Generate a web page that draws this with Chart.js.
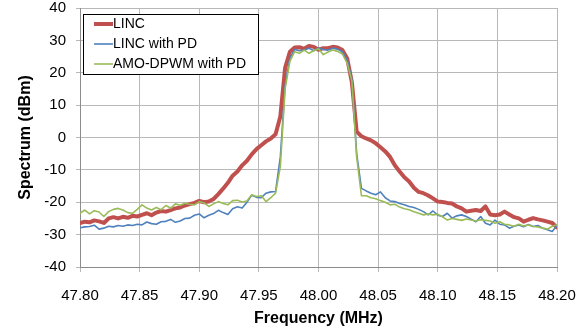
<!DOCTYPE html>
<html>
<head>
<meta charset="utf-8">
<script src="https://cdn.jsdelivr.net/npm/chart.js@4.4.1/dist/chart.umd.min.js"></script>
<style>
    html, body { margin: 0; padding: 0; background: #fff; }
    #wrap { width: 582px; height: 331px; position: relative; }
</style>
</head>
<body>
<div id="wrap"><canvas id="spectrumChart" width="582" height="331"></canvas></div>
<script>
// Frequency samples (MHz)
const freqs = [
    47.800, 47.804, 47.808, 47.812, 47.816, 47.820, 47.824, 47.828, 47.832, 47.836,
    47.840, 47.844, 47.848, 47.852, 47.856, 47.860, 47.864, 47.868, 47.872, 47.876,
    47.880, 47.884, 47.888, 47.892, 47.896, 47.900, 47.904, 47.908, 47.912, 47.916,
    47.920, 47.924, 47.928, 47.932, 47.936, 47.940, 47.944, 47.948, 47.952, 47.956,
    47.960, 47.964, 47.968, 47.972, 47.976, 47.980, 47.984, 47.988, 47.992, 47.996,
    48.000, 48.004, 48.008, 48.012, 48.016, 48.020, 48.024, 48.028, 48.032, 48.036,
    48.040, 48.044, 48.048, 48.052, 48.056, 48.060, 48.064, 48.068, 48.072, 48.076,
    48.080, 48.084, 48.088, 48.092, 48.096, 48.100, 48.104, 48.108, 48.112, 48.116,
    48.120, 48.124, 48.128, 48.132, 48.136, 48.140, 48.144, 48.148, 48.152, 48.156,
    48.160, 48.164, 48.168, 48.172, 48.176, 48.180, 48.184, 48.188, 48.192, 48.196,
    48.200
];

// LINC (dBm)
const lincValues = [
    -26.4, -26.0, -26.2, -25.6, -25.9, -26.4, -25.0, -24.6, -25.0, -24.5,
    -24.8, -24.2, -24.4, -23.9, -23.4, -24.0, -23.2, -22.7, -22.9, -22.4,
    -21.9, -21.6, -21.0, -20.6, -20.2, -19.6, -20.0, -19.8, -19.0, -17.5,
    -15.8, -14.0, -11.8, -10.5, -8.6, -7.2, -5.2, -3.6, -2.4, -1.2,
    -0.3, 1.0, 6.5, 21.5, 26.5, 27.8, 27.9, 27.4, 28.3, 28.0,
    27.1, 27.6, 27.6, 28.0, 27.8, 27.0, 24.5, 17.0, 1.8, 0.4,
    -0.3, -0.9, -1.8, -3.0, -4.3, -6.0, -8.6, -10.5, -12.3, -13.6,
    -15.5, -16.8, -17.2, -17.9, -18.8, -19.8, -19.9, -20.2, -20.4, -21.3,
    -21.9, -22.9, -22.6, -22.4, -22.7, -21.3, -23.8, -24.0, -23.8, -22.9,
    -23.8, -24.6, -25.0, -26.0, -25.4, -24.9, -25.3, -25.6, -26.0, -26.4,
    -27.8
];

// LINC with PD (dBm)
const lincPdValues = [
    -27.9, -27.6, -27.5, -27.1, -28.3, -28.0, -27.4, -27.6, -27.2, -27.4,
    -27.0, -27.2, -26.8, -27.0, -26.1, -26.6, -26.8, -26.0, -25.9, -25.3,
    -26.2, -25.8, -25.0, -24.9, -24.0, -23.6, -24.8, -24.0, -23.5, -22.5,
    -23.2, -23.8, -22.0, -21.4, -21.8, -20.0, -17.8, -18.5, -18.6, -17.2,
    -16.8, -16.7, -6.0, 16.0, 24.5, 27.2, 26.8, 27.0, 27.6, 26.8,
    27.6, 27.2, 27.0, 27.6, 27.3, 26.5, 24.0, 18.0, -5.0, -15.7,
    -16.5, -17.2, -17.7, -16.8, -18.6, -19.6, -19.8, -20.4, -20.8, -21.3,
    -21.6, -22.2, -22.9, -23.9, -22.7, -24.0, -24.4, -23.4, -24.9, -24.2,
    -23.9, -24.4, -25.2, -26.0, -24.4, -26.5, -27.0, -25.5, -26.8, -27.0,
    -28.0, -27.4, -27.0, -27.6, -26.9, -27.5, -27.2, -28.0, -28.5, -29.0,
    -27.2
];

// AMO-DPWM with PD (dBm)
const amoPdValues = [
    -23.4, -22.4, -23.6, -22.6, -23.0, -24.4, -22.9, -22.2, -21.9, -22.4,
    -23.2, -23.4, -22.2, -20.8, -21.8, -22.4, -21.6, -22.3, -21.0, -21.8,
    -20.5, -20.9, -20.3, -20.6, -20.8, -19.8, -20.2, -21.3, -20.5, -19.8,
    -20.4, -20.8, -19.5, -19.4, -19.9, -19.6, -17.7, -18.2, -18.0, -19.8,
    -18.6, -17.2, -9.0, 15.0, 23.5, 26.5, 26.0, 27.0, 26.0, 26.8,
    27.4, 25.6, 26.4, 27.0, 26.6, 25.8, 23.0, 17.5, -6.0, -18.0,
    -18.0, -18.6, -18.9, -19.5, -20.0, -20.8, -20.6, -21.5, -22.0, -22.3,
    -22.9, -23.4, -23.9, -23.6, -23.9, -23.7, -24.5, -25.5, -25.0, -25.3,
    -25.6, -25.2, -25.5, -25.8, -25.4, -25.6, -25.8, -26.5, -26.0, -26.8,
    -27.0, -27.4, -26.8, -27.3, -27.0, -27.5, -27.6, -28.0, -28.3, -27.4,
    -27.0
];

const seriesNames = ['LINC', 'LINC with PD', 'AMO-DPWM with PD'];
const xTickValues = [47.80, 47.85, 47.90, 47.95, 48.00, 48.05, 48.10, 48.15, 48.20];
const yTickValues = [-40, -30, -20, -10, 0, 10, 20, 30, 40];

const FONT = '"Liberation Sans", Arial, sans-serif';

function toPoints(values) {
    return freqs.map((f, i) => ({ x: f, y: values[i] }));
}

// Boxed legend inside the plot area (top-left)
const boxLegend = {
    id: 'boxLegend',
    afterDraw(chart) {
        const ctx = chart.ctx;
        ctx.save();
        ctx.fillStyle = '#ffffff';
        ctx.fillRect(83.5, 14.5, 175, 60);
        ctx.strokeStyle = '#000000';
        ctx.lineWidth = 1;
        ctx.strokeRect(83.5, 14.5, 175, 60);
        ctx.font = '14px ' + FONT;
        ctx.textBaseline = 'middle';
        chart.data.datasets.forEach((ds, i) => {
            const y = 24 + i * 20;
            ctx.strokeStyle = ds.borderColor;
            ctx.lineWidth = ds.borderWidth;
            ctx.beginPath();
            ctx.moveTo(94, y);
            ctx.lineTo(113, y);
            ctx.stroke();
            ctx.fillStyle = '#000000';
            ctx.fillText(ds.label, 113, y + 0.5);
        });
        ctx.restore();
    }
};

const ctx = document.getElementById('spectrumChart').getContext('2d');
new Chart(ctx, {
    type: 'line',
    data: {
        datasets: [
            {
                label: seriesNames[0],
                data: toPoints(lincValues),
                borderColor: '#C0504D',
                borderWidth: 4,
                order: 3
            },
            {
                label: seriesNames[1],
                data: toPoints(lincPdValues),
                borderColor: '#4F81BD',
                borderWidth: 1.6,
                order: 2
            },
            {
                label: seriesNames[2],
                data: toPoints(amoPdValues),
                borderColor: '#9BBB59',
                borderWidth: 1.6,
                order: 1
            }
        ]
    },
    options: {
        responsive: false,
        animation: false,
        devicePixelRatio: 1,
        layout: { padding: { top: 8, right: 25, left: 0, bottom: 0 } },
        elements: {
            point: { radius: 0 },
            line: { tension: 0, fill: false, borderJoinStyle: 'round', borderCapStyle: 'round' }
        },
        plugins: {
            legend: { display: false },
            tooltip: { enabled: false }
        },
        scales: {
            x: {
                type: 'linear',
                min: 47.8,
                max: 48.2,
                afterBuildTicks: scale => { scale.ticks = xTickValues.map(v => ({ value: v })); },
                afterFit: scale => {
                    scale.height = 64;
                    scale.paddingLeft = 0;
                    scale.paddingRight = 0;
                },
                grid: { color: '#b8b8b8', lineWidth: 1, tickLength: 5 },
                border: { color: '#8c8c8c' },
                ticks: {
                    color: '#000',
                    font: { family: FONT, size: 15 },
                    padding: 15,
                    maxRotation: 0,
                    callback: v => Number(v).toFixed(2)
                },
                title: {
                    display: true,
                    text: 'Frequency (MHz)',
                    color: '#000',
                    font: { family: FONT, size: 16, weight: 'bold' },
                    padding: { top: 0, bottom: 3 }
                }
            },
            y: {
                min: -40,
                max: 40,
                afterBuildTicks: scale => { scale.ticks = yTickValues.map(v => ({ value: v })); },
                afterFit: scale => {
                    scale.width = 80;
                    scale.paddingTop = 0;
                    scale.paddingBottom = 0;
                },
                grid: { color: '#b8b8b8', lineWidth: 1, tickLength: 4 },
                border: { color: '#8c8c8c' },
                ticks: {
                    color: '#000',
                    font: { family: FONT, size: 15 },
                    padding: 10
                },
                title: {
                    display: true,
                    text: 'Spectrum (dBm)',
                    color: '#000',
                    font: { family: FONT, size: 16, weight: 'bold' },
                    padding: { top: 16, bottom: 0 }
                }
            }
        }
    },
    plugins: [boxLegend]
});
</script>
</body>
</html>
